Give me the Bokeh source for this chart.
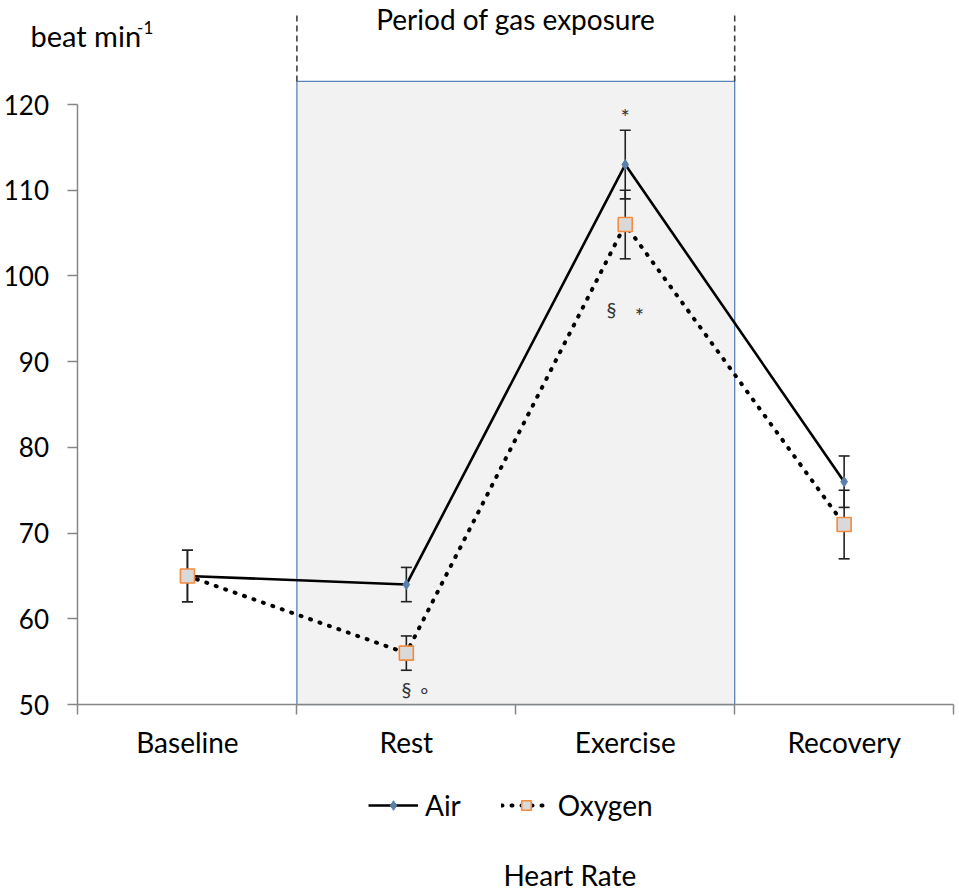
from bokeh.plotting import figure
from bokeh.models import Range1d, FixedTicker, Label, Legend, LegendItem, LinearAxis
from bokeh.core.properties import value
from bokeh.embed import file_html
from bokeh.resources import INLINE

# ---- data ----
categories = ["Baseline", "Rest", "Exercise", "Recovery"]
air_mean = [65, 64, 113, 76]
air_err = [3, 2, 4, 3]
oxygen_mean = [65, 56, 106, 71]
oxygen_err = [3, 2, 4, 4]
y_ticks = [50, 60, 70, 80, 90, 100, 110, 120]
y_min, y_max = 50, 120
exposure_start = 1          # category boundary where gas exposure starts
exposure_end = 3            # category boundary where gas exposure ends
exposure_top = 122.7
exposure_marker_top = 130.5
sig_text = ["§", "∘", "*", "§", "*"]
sig_cat = [1, 1, 2, 2, 2]
sig_dx = [0.0, 0.085, 0.0, -0.063, 0.065]
sig_y = [51.8, 51.7, 118.6, 96.2, 95.4]
sig_size = ["20px", "20px", "22px", "20px", "22px"]

FONT = "Lato"
FS = "28px"

xpos = [i + 0.5 for i in range(len(categories))]

# frame covers the whole canvas; axes are placed inside it at fixed locations
p = figure(width=959, height=892, x_range=Range1d(-0.354, 4.027), y_range=Range1d(28.07, 132.14),
           output_backend="svg", toolbar_location=None,
           x_axis_location=None, y_axis_location=None,
           min_border_left=0, min_border_right=0, min_border_top=0, min_border_bottom=0)
p.outline_line_color = None
p.xgrid.visible = False
p.ygrid.visible = False
p.background_fill_color = "white"
p.border_fill_color = "white"

# exposure period box
p.quad(left=[exposure_start], right=[exposure_end], bottom=[y_min], top=[exposure_top],
       fill_color="#f2f2f2", line_color="#5a83bb", line_width=1.3)
p.segment(x0=[exposure_start, exposure_end], x1=[exposure_start, exposure_end],
          y0=[exposure_top, exposure_top], y1=[exposure_marker_top, exposure_marker_top],
          line_color="#404040", line_width=1.6, line_dash="6 4")

# error bars
air_lo = [m - e for m, e in zip(air_mean, air_err)]
air_hi = [m + e for m, e in zip(air_mean, air_err)]
oxy_lo = [m - e for m, e in zip(oxygen_mean, oxygen_err)]
oxy_hi = [m + e for m, e in zip(oxygen_mean, oxygen_err)]
for lo, hi in ((air_lo, air_hi), (oxy_lo, oxy_hi)):
    p.segment(x0=xpos, x1=xpos, y0=lo, y1=hi, line_color="#222222", line_width=1.6)
    p.dash(x=xpos + xpos, y=lo + hi, size=11, line_color="#222222", line_width=1.6)

# lines
air_line = p.line(xpos, air_mean, line_color="black", line_width=2.6)
oxy_line = p.line(xpos, oxygen_mean, line_color="black", line_width=4,
                  line_dash="1 9", line_cap="round")
air_pts = p.scatter(xpos, air_mean, marker="diamond", size=10,
                    fill_color="#5b7fab", line_color="#5b7fab")
oxy_pts = p.scatter(xpos, oxygen_mean, marker="square", size=14,
                    fill_color="#d9d9d9", line_color="#f58b3c", line_width=1.6)

# significance marks
for t, c, dx, yy, fs in zip(sig_text, sig_cat, sig_dx, sig_y, sig_size):
    p.text(x=[c + 0.5 + dx], y=[yy], text=[t], text_font=value(FONT), text_font_size=fs,
           text_align="center", text_baseline="middle", text_color="#333333")

# axes
yaxis = LinearAxis(fixed_location=0, ticker=FixedTicker(ticks=y_ticks), bounds=(y_min, y_max))
yaxis.axis_line_color = "#868686"
yaxis.axis_line_width = 1.5
yaxis.major_tick_line_color = "#868686"
yaxis.major_tick_line_width = 1.5
yaxis.major_tick_out = 10
yaxis.major_tick_in = 0
yaxis.minor_tick_line_color = None
yaxis.major_label_standoff = 19
yaxis.major_label_text_font = FONT
yaxis.major_label_text_font_size = "26px"
yaxis.major_label_text_color = "black"
p.add_layout(yaxis, "left")

xaxis = LinearAxis(fixed_location=y_min, ticker=FixedTicker(ticks=xpos, minor_ticks=[0, 1, 2, 3, 4]),
                   bounds=(0, 4))
xaxis.major_label_overrides = {x: c for x, c in zip(xpos, categories)}
xaxis.axis_line_color = "#868686"
xaxis.axis_line_width = 1.5
xaxis.major_tick_line_color = None
xaxis.minor_tick_line_color = "#868686"
xaxis.minor_tick_line_width = 1.5
xaxis.minor_tick_out = 10
xaxis.minor_tick_in = 0
xaxis.major_label_standoff = 10
xaxis.major_label_text_font = FONT
xaxis.major_label_text_font_size = FS
xaxis.major_label_text_color = "black"
p.add_layout(xaxis, "below")

# texts
p.add_layout(Label(x=-0.217, y=128.05, text="beat min", text_font=FONT, text_font_size="29px",
                   text_baseline="alphabetic", text_align="left", text_color="black"))
p.add_layout(Label(x=0.27, y=128.95, text="-1", text_font=FONT, text_font_size="17px",
                   text_baseline="alphabetic", text_align="left", text_color="black"))
p.add_layout(Label(x=2.0, y=130.0, text="Period of gas exposure", text_font=FONT,
                   text_font_size=FS, text_baseline="alphabetic", text_align="center",
                   text_color="black"))
p.add_layout(Label(x=2.247, y=30.17, text="Heart Rate", text_font=FONT, text_font_size=FS,
                   text_baseline="alphabetic", text_align="center", text_color="black"))

legend = Legend(items=[LegendItem(label="Air", renderers=[air_line, air_pts]),
                       LegendItem(label="Oxygen", renderers=[oxy_line, oxy_pts])],
                location=(368, 70), orientation="horizontal",
                label_text_font=FONT, label_text_font_size=FS, label_standoff=7,
                label_text_color="black",
                glyph_width=50, glyph_height=24, spacing=40, padding=0, margin=0,
                border_line_color=None, background_fill_alpha=0)
p.add_layout(legend, "center")

open("out.html", "w").write(file_html(p, INLINE))
